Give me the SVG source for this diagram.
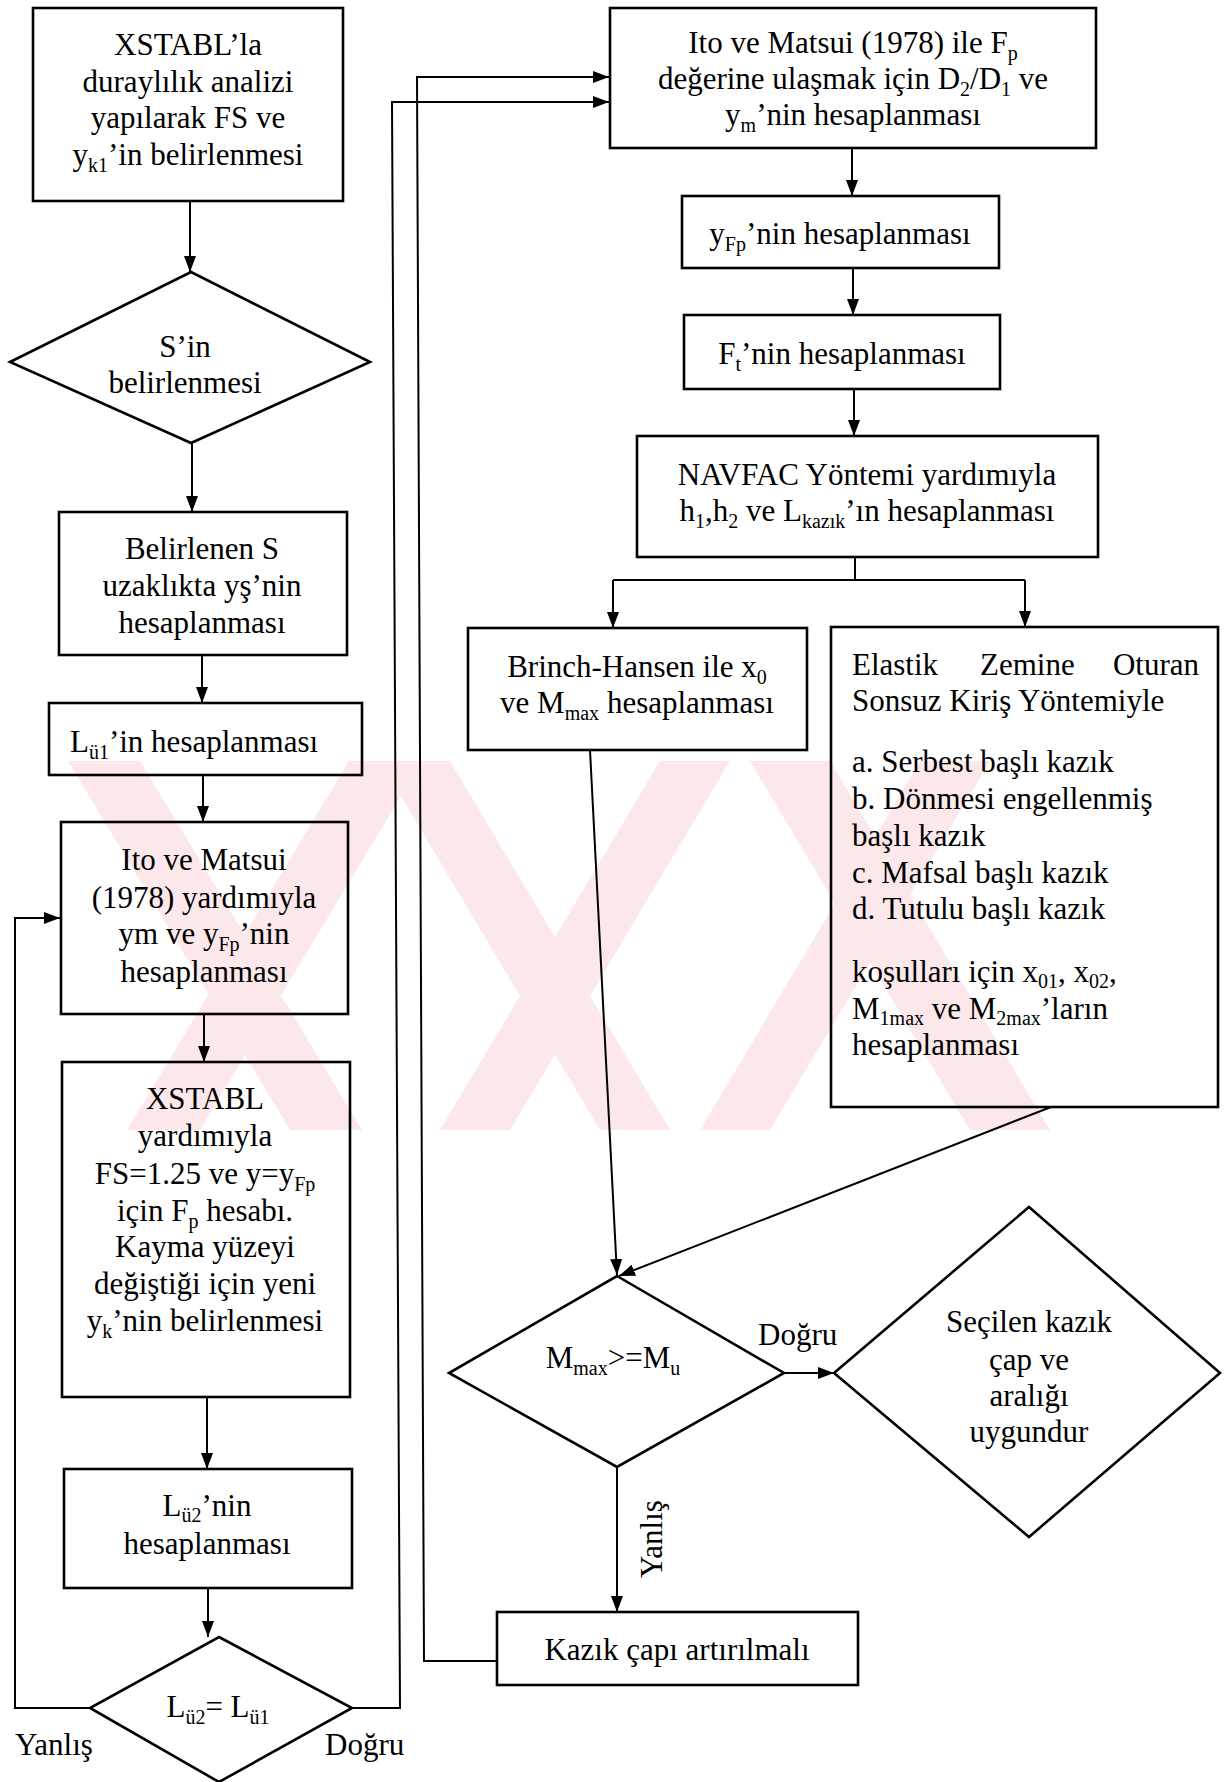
<svg xmlns="http://www.w3.org/2000/svg" width="1224" height="1782" viewBox="0 0 1224 1782">
  <style>
    text { font-family: "Liberation Serif", "Times New Roman", serif; font-size: 31px; fill: #000; }
    .c { text-anchor: middle; }
    .s { font-size: 20px; }
    .box { fill: none; stroke: #000; stroke-width: 2.6; }
    .wire { fill: none; stroke: #000; stroke-width: 2; }
    .wm { fill: #fce8ea; }
  </style>
  <defs>
    <marker id="arr" markerWidth="16" markerHeight="12" refX="16" refY="6" orient="auto" markerUnits="userSpaceOnUse">
      <path d="M0,0 L16,6 L0,12 z" fill="#000"/>
    </marker>
    <clipPath id="wmclip"><rect x="68" y="761" width="1012" height="369"/></clipPath>
  </defs>
  <rect width="1224" height="1782" fill="#fff"/>

  <!-- faint background stripes -->
  <g id="watermark" clip-path="url(#wmclip)">
    <polygon class="wm" points="68,761 140,761 362,1130 290,1130"/>
    <polygon class="wm" points="127,1130 200,1130 422,761 349,761"/>
    <polygon class="wm" points="380,761 450,761 670,1130 600,1130"/>
    <polygon class="wm" points="440,1130 510,1130 730,761 660,761"/>
    <polygon class="wm" points="750,761 830,761 1050,1130 970,1130"/>
    <polygon class="wm" points="700,1130 770,1130 990,761 920,761"/>
  </g>

  <!-- connectors -->
  <g id="connectors">
    <line class="wire" x1="190" y1="201" x2="190" y2="272" marker-end="url(#arr)"/>
    <line class="wire" x1="192" y1="443" x2="192" y2="512" marker-end="url(#arr)"/>
    <line class="wire" x1="202" y1="655" x2="202" y2="703" marker-end="url(#arr)"/>
    <line class="wire" x1="203" y1="775" x2="203" y2="822" marker-end="url(#arr)"/>
    <line class="wire" x1="204" y1="1014" x2="204" y2="1062" marker-end="url(#arr)"/>
    <line class="wire" x1="207" y1="1397" x2="207" y2="1469" marker-end="url(#arr)"/>
    <line class="wire" x1="208" y1="1588" x2="208" y2="1637" marker-end="url(#arr)"/>
    <!-- loop back (Yanlış) -->
    <polyline class="wire" points="90,1708 15,1708 15,918 60,918" marker-end="url(#arr)"/>
    <!-- Doğru to right column -->
    <polyline class="wire" points="352,1708 400,1708 392,102 609,102" marker-end="url(#arr)"/>
    <!-- increase diameter loop -->
    <polyline class="wire" points="497,1661 424,1661 417,77 609,77" marker-end="url(#arr)"/>
    <!-- right column -->
    <line class="wire" x1="852" y1="148" x2="852" y2="196" marker-end="url(#arr)"/>
    <line class="wire" x1="853" y1="268" x2="853" y2="315" marker-end="url(#arr)"/>
    <line class="wire" x1="854" y1="389" x2="854" y2="436" marker-end="url(#arr)"/>
    <polyline class="wire" points="855,557 855,580"/>
    <polyline class="wire" points="613,580 1025,580"/>
    <line class="wire" x1="613" y1="580" x2="613" y2="628" marker-end="url(#arr)"/>
    <line class="wire" x1="1025" y1="580" x2="1025" y2="627" marker-end="url(#arr)"/>
    <line class="wire" x1="590" y1="750" x2="617" y2="1275" marker-end="url(#arr)"/>
    <line class="wire" x1="1051" y1="1107" x2="619" y2="1276" marker-end="url(#arr)"/>
    <line class="wire" x1="784" y1="1373" x2="834" y2="1373" marker-end="url(#arr)"/>
    <line class="wire" x1="617" y1="1467" x2="617" y2="1612" marker-end="url(#arr)"/>
    <text x="758" y="1345">Doğru</text>
    <text transform="translate(662,1578) rotate(-90)">Yanlış</text>
    <text x="15" y="1755">Yanlış</text>
    <text x="325" y="1755">Doğru</text>
  </g>

  <!-- left column -->
  <g id="n-xstabl-fs">
    <rect class="box" x="33" y="8" width="310" height="193"/>
    <text class="c" x="188" y="55">XSTABL’la</text>
    <text class="c" x="188" y="92">duraylılık analizi</text>
    <text class="c" x="188" y="128">yapılarak FS ve</text>
    <text class="c" x="188" y="165">y<tspan class="s" dy="7">k1</tspan><tspan dy="-7">’in  belirlenmesi</tspan></text>
  </g>
  <g id="n-s">
    <polygon class="box" points="191,272 370,362 191,443 10,362"/>
    <text class="c" x="185" y="357">S’in</text>
    <text class="c" x="185" y="393">belirlenmesi</text>
  </g>
  <g id="n-ys">
    <rect class="box" x="59" y="512" width="288" height="143"/>
    <text class="c" x="202" y="559">Belirlenen S</text>
    <text class="c" x="202" y="596">uzaklıkta yş’nin</text>
    <text class="c" x="202" y="633">hesaplanması</text>
  </g>
  <g id="n-lu1">
    <rect class="box" x="49" y="703" width="313" height="72"/>
    <text x="70" y="752">L<tspan class="s" dy="7">ü1</tspan><tspan dy="-7">’in hesaplanması</tspan></text>
  </g>
  <g id="n-ito-left">
    <rect class="box" x="61" y="822" width="287" height="192"/>
    <text class="c" x="204" y="870">Ito ve Matsui</text>
    <text class="c" x="204" y="908">(1978) yardımıyla</text>
    <text class="c" x="204" y="944">ym ve y<tspan class="s" dy="7">Fp</tspan><tspan dy="-7">’nin</tspan></text>
    <text class="c" x="204" y="982">hesaplanması</text>
  </g>
  <g id="n-xstabl-fp">
    <rect class="box" x="62" y="1062" width="288" height="335"/>
    <text class="c" x="205" y="1109">XSTABL</text>
    <text class="c" x="205" y="1146">yardımıyla</text>
    <text class="c" x="205" y="1184">FS=1.25 ve y=y<tspan class="s" dy="7">Fp</tspan></text>
    <text class="c" x="205" y="1221">için F<tspan class="s" dy="7">p</tspan><tspan dy="-7"> hesabı.</tspan></text>
    <text class="c" x="205" y="1257">Kayma yüzeyi</text>
    <text class="c" x="205" y="1294">değiştiği için yeni</text>
    <text class="c" x="205" y="1331">y<tspan class="s" dy="7">k</tspan><tspan dy="-7">’nin belirlenmesi</tspan></text>
  </g>
  <g id="n-lu2">
    <rect class="box" x="64" y="1469" width="288" height="119"/>
    <text class="c" x="207" y="1516">L<tspan class="s" dy="6">ü2</tspan><tspan dy="-6">’nin</tspan></text>
    <text class="c" x="207" y="1554">hesaplanması</text>
  </g>
  <g id="n-compare-l">
    <polygon class="box" points="219,1637 352,1708 219,1782 90,1708"/>
    <text class="c" x="218" y="1717">L<tspan class="s" dy="7">ü2</tspan><tspan dy="-7">= L</tspan><tspan class="s" dy="7">ü1</tspan></text>
  </g>

  <!-- right column -->
  <g id="n-ito-right">
    <rect class="box" x="610" y="8" width="486" height="140"/>
    <text class="c" x="853" y="53">Ito ve Matsui (1978) ile  F<tspan class="s" dy="7">p</tspan></text>
    <text class="c" x="853" y="89">değerine ulaşmak için D<tspan class="s" dy="7">2</tspan><tspan dy="-7">/D</tspan><tspan class="s" dy="7">1</tspan><tspan dy="-7"> ve</tspan></text>
    <text class="c" x="853" y="125">y<tspan class="s" dy="7">m</tspan><tspan dy="-7">’nin hesaplanması</tspan></text>
  </g>
  <g id="n-yfp">
    <rect class="box" x="682" y="196" width="317" height="72"/>
    <text class="c" x="840" y="244">y<tspan class="s" dy="7">Fp</tspan><tspan dy="-7">’nin hesaplanması</tspan></text>
  </g>
  <g id="n-ft">
    <rect class="box" x="684" y="315" width="316" height="74"/>
    <text class="c" x="842" y="364">F<tspan class="s" dy="7">t</tspan><tspan dy="-7">’nin hesaplanması</tspan></text>
  </g>
  <g id="n-navfac">
    <rect class="box" x="637" y="436" width="461" height="121"/>
    <text class="c" x="867" y="485">NAVFAC Yöntemi yardımıyla</text>
    <text class="c" x="867" y="521">h<tspan class="s" dy="7">1</tspan><tspan dy="-7">,h</tspan><tspan class="s" dy="7">2</tspan><tspan dy="-7"> ve L</tspan><tspan class="s" dy="7">kazık</tspan><tspan dy="-7">’ın hesaplanması</tspan></text>
  </g>
  <g id="n-brinch">
    <rect class="box" x="468" y="628" width="339" height="122"/>
    <text class="c" x="637" y="677">Brinch-Hansen ile x<tspan class="s" dy="7">0</tspan></text>
    <text class="c" x="637" y="713">ve M<tspan class="s" dy="7">max</tspan><tspan dy="-7"> hesaplanması</tspan></text>
  </g>
  <g id="n-elastik">
    <rect class="box" x="831" y="627" width="387" height="480"/>
    <text x="852" y="675">Elastik</text>
    <text x="980" y="675">Zemine</text>
    <text x="1199" y="675" text-anchor="end">Oturan</text>
    <text x="852" y="711">Sonsuz Kiriş Yöntemiyle</text>
    <text x="852" y="772">a. Serbest başlı kazık</text>
    <text x="852" y="809">b. Dönmesi engellenmiş</text>
    <text x="852" y="846">başlı kazık</text>
    <text x="852" y="883">c. Mafsal başlı kazık</text>
    <text x="852" y="919">d. Tutulu başlı kazık</text>
    <text x="852" y="982">koşulları için x<tspan class="s" dy="6">01</tspan><tspan dy="-6">, x</tspan><tspan class="s" dy="6">02</tspan><tspan dy="-6">,</tspan></text>
    <text x="852" y="1019">M<tspan class="s" dy="6">1max</tspan><tspan dy="-6"> ve M</tspan><tspan class="s" dy="6">2max</tspan><tspan dy="-6">’ların</tspan></text>
    <text x="852" y="1055">hesaplanması</text>
  </g>
  <g id="n-moment">
    <polygon class="box" points="617,1276 784,1373 617,1467 449,1373"/>
    <text class="c" x="613" y="1368">M<tspan class="s" dy="7">max</tspan><tspan dy="-7">&gt;=M</tspan><tspan class="s" dy="7">u</tspan></text>
  </g>
  <g id="n-ok">
    <polygon class="box" points="1029,1207 1220,1373 1029,1537 834,1373"/>
    <text class="c" x="1029" y="1332">Seçilen kazık</text>
    <text class="c" x="1029" y="1370">çap ve</text>
    <text class="c" x="1029" y="1406">aralığı</text>
    <text class="c" x="1029" y="1442">uygundur</text>
  </g>
  <g id="n-increase">
    <rect class="box" x="497" y="1612" width="361" height="73"/>
    <text class="c" x="677" y="1660">Kazık çapı artırılmalı</text>
  </g>
</svg>
